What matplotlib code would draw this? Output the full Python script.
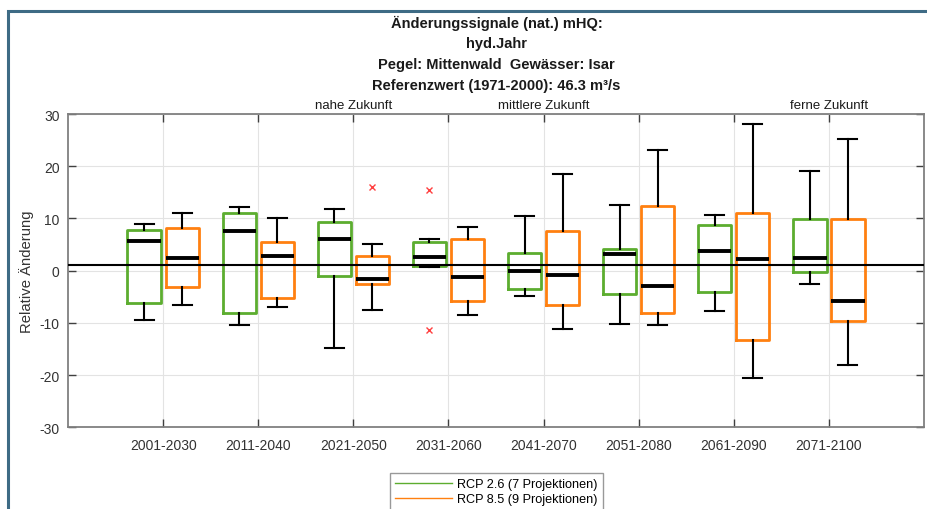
import matplotlib
matplotlib.use("Agg")
import matplotlib.pyplot as plt
from matplotlib.patches import Rectangle
from matplotlib.lines import Line2D

plt.rcParams['font.family'] = ['Liberation Sans', 'DejaVu Sans']
plt.rcParams['axes.unicode_minus'] = False

periods = ["2001-2030", "2011-2040", "2021-2050", "2031-2060",
           "2041-2070", "2051-2080", "2061-2090", "2071-2100"]

# RCP 2.6 box statistics
rcp26_whislo = [-9.4, -10.4, -14.8, 0.7, -4.8, -10.2, -7.8, -2.6]
rcp26_q1 = [-6.2, -8.1, -1.0, 0.8, -3.5, -4.4, -4.0, -0.3]
rcp26_med = [5.6, 7.6, 6.1, 2.7, 0.0, 3.1, 3.7, 2.4]
rcp26_q3 = [7.8, 11.0, 9.3, 5.4, 3.4, 4.2, 8.8, 9.8]
rcp26_whishi = [8.9, 12.1, 11.8, 6.1, 10.4, 12.6, 10.7, 19.1]
rcp26_fliers = [[], [], [], [15.4, -11.3], [], [], [], []]

# RCP 8.5 box statistics
rcp85_whislo = [-6.6, -6.9, -7.5, -8.4, -11.1, -10.4, -20.6, -18.0]
rcp85_q1 = [-3.2, -5.3, -2.6, -5.9, -6.5, -8.2, -13.3, -9.7]
rcp85_med = [2.4, 2.8, -1.6, -1.3, -0.8, -3.0, 2.2, -5.8]
rcp85_q3 = [8.1, 5.4, 2.9, 6.1, 7.5, 12.3, 11.0, 9.9]
rcp85_whishi = [11.0, 10.1, 5.1, 8.3, 18.5, 23.1, 28.0, 25.2]
rcp85_fliers = [[], [], [16.1], [], [], [], [], []]

ref_line = 1.05

era_labels = ["nahe Zukunft", "mittlere Zukunft", "ferne Zukunft"]
era_pos = [3, 5, 8]

green = '#5cad2f'
orange = '#ff8010'


def make_stats(lo, q1, med, q3, hi, fl):
    stats = []
    for i in range(len(lo)):
        stats.append(dict(whislo=lo[i], q1=q1[i], med=med[i], q3=q3[i],
                          whishi=hi[i], fliers=fl[i]))
    return stats


fig = plt.figure(figsize=(9.27, 5.10), dpi=100)
ax = fig.add_axes([0.0734, 0.1602, 0.9234, 0.6143])

pos = list(range(1, len(periods) + 1))

for stats, off, col in [(make_stats(rcp26_whislo, rcp26_q1, rcp26_med, rcp26_q3, rcp26_whishi, rcp26_fliers), -0.2, green),
                        (make_stats(rcp85_whislo, rcp85_q1, rcp85_med, rcp85_q3, rcp85_whishi, rcp85_fliers), 0.2, orange)]:
    ax.bxp(stats, positions=[p + off for p in pos], widths=0.35, capwidths=0.2,
           manage_ticks=False, zorder=3,
           boxprops=dict(color=col, linewidth=2.0),
           medianprops=dict(color='black', linewidth=2.8, solid_capstyle='butt'),
           whiskerprops=dict(color='black', linewidth=1.5),
           capprops=dict(color='black', linewidth=1.5),
           flierprops=dict(marker='x', markeredgecolor='#ff4040', markersize=5,
                           markeredgewidth=1.0, linestyle='none'))

ax.axhline(ref_line, color='black', linewidth=1.5, zorder=4)

ax.set_xlim(0, 9)
ax.set_ylim(-30, 30)
ax.set_xticks(pos)
ax.set_xticklabels(periods)
ax.set_yticks([-30, -20, -10, 0, 10, 20, 30])
ax.grid(True, color='#e3e3e3', linewidth=0.8, zorder=0)
ax.set_axisbelow(True)
ax.tick_params(direction='in', length=6, width=1.0, color='#404040',
               labelsize=10, labelcolor='#333333', top=True, right=True, pad=6)
ax.tick_params(axis='x', pad=8)
for sp in ax.spines.values():
    sp.set_color('#808080')
    sp.set_linewidth(1.3)
ax.set_ylabel("Relative Änderung", fontsize=10.7, color='#333333')
ax.yaxis.set_label_coords(-0.04, 0.5)

for lab, p in zip(era_labels, era_pos):
    ax.text(p, 30.6, lab, ha='center', va='bottom', fontsize=9.5, color='#1a1a1a')

title_lines = ["Änderungssignale (nat.) mHQ:", "hyd.Jahr",
               "Pegel: Mittenwald  Gewässer: Isar",
               "Referenzwert (1971-2000): 46.3 m³/s"]
for k, t in enumerate(title_lines):
    fig.text(0.5355, 1 - (23 + 21 * k) / 510, t, ha='center', va='center',
             fontsize=10.5, fontweight='bold', color='#1a1a1a')

handles = [Line2D([], [], color=green, linewidth=1.0),
           Line2D([], [], color=orange, linewidth=1.0)]
fig.legend(handles, ["RCP 2.6 (7 Projektionen)", "RCP 8.5 (9 Projektionen)"],
           loc='upper center', bbox_to_anchor=(0.5355, 1 - 474 / 510),
           fontsize=9.1, frameon=True, fancybox=False, edgecolor='#808080',
           handlelength=4.5, handletextpad=0.4, labelspacing=0.25,
           borderpad=0.4, borderaxespad=0)

# dark frame of the page
fig.add_artist(Rectangle((8.2 / 927, -0.1), 1.2, 1.1 - 12 / 510,
                         transform=fig.transFigure, fill=False,
                         edgecolor='#3e6b85', linewidth=2.2, zorder=10))

fig.savefig("out.png", dpi=100)
